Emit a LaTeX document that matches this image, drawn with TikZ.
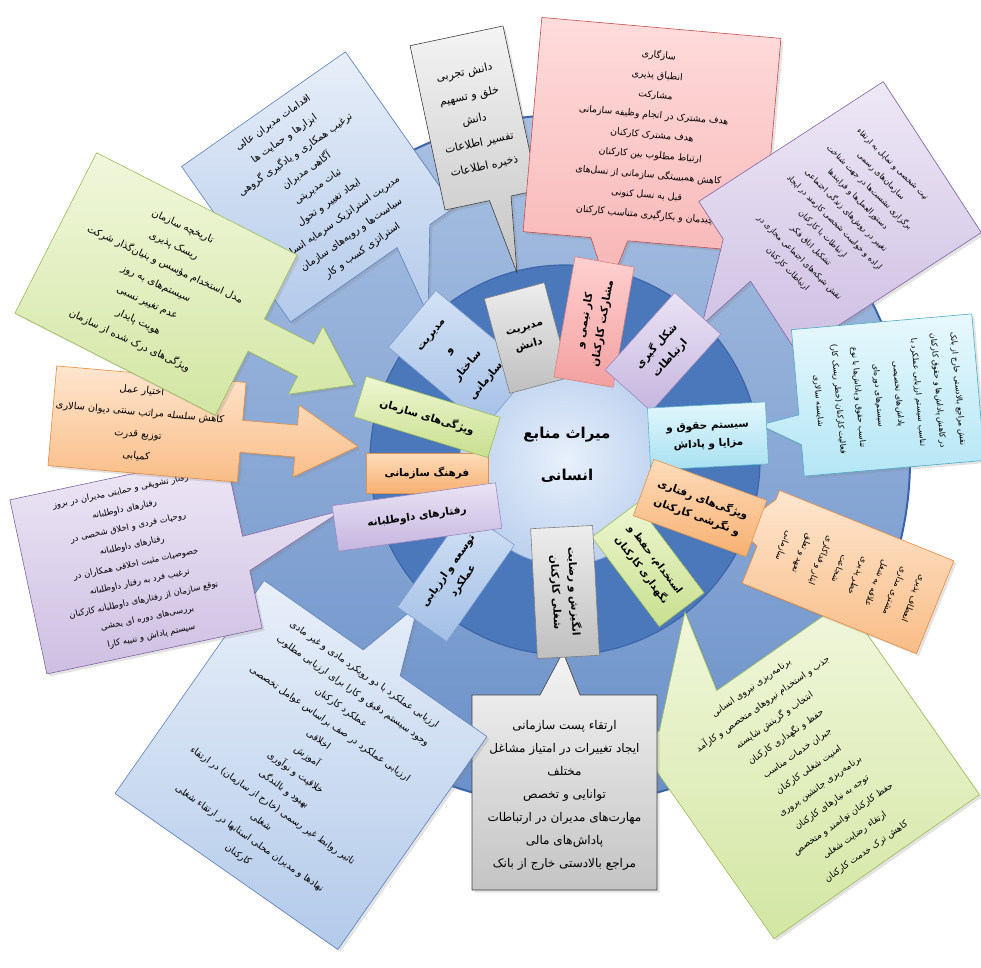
\documentclass[tikz,border=0pt]{standalone}
\usepackage{fontspec}
\newfontfamily\fa[Script=Arabic]{DejaVu Sans}
\TeXXeTstate=1
\newcommand{\fr}[1]{\beginR #1\endR}
\newcommand{\setfs}[2]{\fontsize{#1}{#2}\selectfont}
\usetikzlibrary{shadows}
% rings
\definecolor{ringedge}{HTML}{3A64A6}
\definecolor{ringtop}{HTML}{A9C0E2}
\definecolor{ringbot}{HTML}{6A90C8}
\definecolor{ringmid}{HTML}{4B78BB}
\definecolor{ringmidD}{HTML}{3D66A8}
\definecolor{corein}{HTML}{E8F0FB}
\definecolor{coreout}{HTML}{BCD1EE}
\definecolor{coreD}{HTML}{8EA9D6}
% callouts
\definecolor{cgrayT}{HTML}{F4F4F4}\definecolor{cgrayB}{HTML}{C4C4C4}\definecolor{cgrayD}{HTML}{3F3F3F}
\definecolor{cpinkT}{HTML}{FFDCDC}\definecolor{cpinkB}{HTML}{F7B4B4}\definecolor{cpinkD}{HTML}{C0504D}
\definecolor{cpurpT}{HTML}{EEE8F6}\definecolor{cpurpB}{HTML}{CDBFE2}\definecolor{cpurpD}{HTML}{8064A2}
\definecolor{ccyanT}{HTML}{E8F8FD}\definecolor{ccyanB}{HTML}{B5E6F5}\definecolor{ccyanD}{HTML}{4BACC6}
\definecolor{coranT}{HTML}{FEE6CF}\definecolor{coranB}{HTML}{F9BD87}\definecolor{coranD}{HTML}{E68A3A}
\definecolor{cgrnT}{HTML}{F1F7DC}\definecolor{cgrnB}{HTML}{D3E6A3}\definecolor{cgrnD}{HTML}{9BBB59}
\definecolor{cbluT}{HTML}{E8EFF9}\definecolor{cbluB}{HTML}{B3CAEA}\definecolor{cbluD}{HTML}{5A7FBF}
% labels
\definecolor{lbluT}{HTML}{D3E2F5}\definecolor{lbluB}{HTML}{A3BFE6}\definecolor{lbluD}{HTML}{7F9ECF}
\definecolor{lgrayT}{HTML}{EDEDED}\definecolor{lgrayB}{HTML}{BFBFBF}\definecolor{lgrayD}{HTML}{808080}
\definecolor{lpinkT}{HTML}{FFD0D0}\definecolor{lpinkB}{HTML}{F3A0A0}\definecolor{lpinkD}{HTML}{D88080}
\definecolor{lpurpT}{HTML}{EAE3F4}\definecolor{lpurpB}{HTML}{C5B6DF}\definecolor{lpurpD}{HTML}{9C88C0}
\definecolor{lcyanT}{HTML}{E3F7FC}\definecolor{lcyanB}{HTML}{A8E0F1}\definecolor{lcyanD}{HTML}{5DB6D0}
\definecolor{loranT}{HTML}{FDDCBC}\definecolor{loranB}{HTML}{F7B071}\definecolor{loranD}{HTML}{E0954F}
\definecolor{lgrnT}{HTML}{EEF6D2}\definecolor{lgrnB}{HTML}{C8DF8E}\definecolor{lgrnD}{HTML}{9DBE5C}
\tikzset{
  lbl/.style={line width=0.6pt, align=center, inner sep=1pt, font={\fa\bfseries\setfs{10.5}{18}}},
  lblue/.style={lbl, draw=lbluD, top color=lbluT, bottom color=lbluB},
  lgray/.style={lbl, draw=lgrayD, top color=lgrayT, bottom color=lgrayB},
  lpink/.style={lbl, draw=lpinkD, top color=lpinkT, bottom color=lpinkB},
  lpurple/.style={lbl, draw=lpurpD, top color=lpurpT, bottom color=lpurpB},
  lcyan/.style={lbl, draw=lcyanD, top color=lcyanT, bottom color=lcyanB},
  lorange/.style={lbl, draw=loranD, top color=loranT, bottom color=loranB},
  lgreen/.style={lbl, draw=lgrnD, top color=lgrnT, bottom color=lgrnB},
  cbase/.style={line width=0.6pt, line join=round, drop shadow={opacity=0.22, shadow xshift=2.5pt, shadow yshift=-2.5pt}},
  cgray/.style={cbase, draw=cgrayD, top color=cgrayT, bottom color=cgrayB},
  cpink/.style={cbase, draw=cpinkD, top color=cpinkT, bottom color=cpinkB},
  cpurple/.style={cbase, draw=cpurpD, top color=cpurpT, bottom color=cpurpB},
  ccyan/.style={cbase, draw=ccyanD, top color=ccyanT, bottom color=ccyanB},
  corange/.style={cbase, draw=coranD, top color=coranT, bottom color=coranB},
  cgreen/.style={cbase, draw=cgrnD, top color=cgrnT, bottom color=cgrnB},
  cblue/.style={cbase, draw=cbluD, top color=cbluT, bottom color=cbluB},
  ctext/.style={align=center, inner sep=0pt, text=black},
}
\begin{document}
\begin{tikzpicture}[x=1pt,y=-1pt]
\useasboundingbox (0,0) rectangle (981,967);
\fill[white] (0,0) rectangle (981,967);

% ---------- background rings ----------
\coordinate (C) at (565,460);
\path[draw=ringedge, line width=2pt, top color=ringtop, bottom color=ringbot] (C) circle[radius=345];
\path[draw=ringmidD, line width=1.2pt, fill=ringmid] (C) circle[radius=195];
\path[draw=coreD, line width=0.8pt, inner color=corein, outer color=coreout] (C) circle[radius=105];

\node[align=center, font={\fa\bfseries\setfs{15}{42}}] (T) at (567,455) {\fr{میراث منابع}\\\fr{انسانی}};

% ---------- callouts ----------
% blue top-left
\coordinate (tL) at (428,315);
\begin{scope}[shift={(318,187)},rotate=35]
\path[cblue] (-100,-95) -- (100,-95) -- (100,95) -- (70,95) -- (tL) -- (30,95) -- (-100,95) -- cycle;
\node[ctext, rotate=35, font={\fa\setfs{10}{19.5}}] (cL) at (0,0) {\fr{اقدامات مدیران عالی}\\\fr{ابزارها و حمایت ها}\\\fr{ترغیب همکاری و یادگیری گروهی}\\\fr{آگاهی مدیران}\\\fr{ثبات مدیریتی}\\\fr{ایجاد تغییر و تحول}\\\fr{مدیریت استراتژیک سرمایه انسانی}\\\fr{سیاست‌ها و رویه‌های سازمان}\\\fr{استراتژی کسب و کار}};
\end{scope}

% gray top
\coordinate (tA) at (517,273);
\begin{scope}[shift={(474,118)},rotate=12]
\path[cgray] (-47.5,-84) -- (47.5,-84) -- (47.5,84) -- (20,84) -- (tA) -- (-2,84) -- (-47.5,84) -- cycle;
\node[ctext, rotate=12, font={\fa\setfs{11}{24}}] (cA) at (0,2) {\fr{دانش تجربی}\\\fr{خلق و تسهیم}\\\fr{دانش}\\\fr{تفسیر اطلاعات}\\\fr{ذخیره اطلاعات}};
\end{scope}

% pink top
\coordinate (tB) at (608,290);
\begin{scope}[shift={(652,135)},rotate=-5]
\path[cpink] (-120,-107.5) -- (120,-107.5) -- (120,107.5) -- (-15,107.5) -- (tB) -- (-52,107.5) -- (-120,107.5) -- cycle;
\node[ctext, rotate=-5, font={\fa\setfs{9.3}{20}}] (cB) at (0,0) {\fr{سازگاری}\\\fr{انطباق پذیری}\\\fr{مشارکت}\\\fr{هدف مشترک در انجام وظیفه سازمانی}\\\fr{هدف مشترک کارکنان}\\\fr{ارتباط مطلوب بین کارکنان}\\\fr{کاهش همبستگی سازمانی از نسل‌های}\\\fr{قبل به نسل کنونی}\\\fr{چیدمان و بکارگیری متناسب کارکنان}};
\end{scope}

% purple top-right
\coordinate (tC) at (702,325);
\begin{scope}[shift={(840,217)},rotate=-57]
\path[cpurple] (-90,-110) -- (90,-110) -- (90,110) -- (5,110) -- (tC) -- (-45,110) -- (-90,110) -- cycle;
\node[ctext, rotate=-45, font={\fa\setfs{8}{16.5}}] (cC) at (0,0) {\fr{نیت شخصی و تمایل به ارتقاء}\\\fr{سازمان‌های رسمی}\\\fr{برگزاری نشست‌ها در جهت شناخت}\\\fr{دستورالعمل‌ها و فرایندها}\\\fr{تغییر در روش‌های زندگی اجتماعی}\\\fr{اراده و خواست شخصی کارمند در ایجاد}\\\fr{ارتباطات با کارکنان}\\\fr{تشکیل اتاق فکر}\\\fr{نقش شبکه‌های اجتماعی مجازی در}\\\fr{ارتباطات کارکنان}};
\end{scope}

% cyan right
\coordinate (tD) at (760,425);
\begin{scope}[shift={(888,395)},rotate=5]
\path[ccyan] (-90.5,-73.5) -- (90.5,-73.5) -- (90.5,73.5) -- (-90.5,73.5) -- (-90.5,42) -- (tD) -- (-90.5,12) -- cycle;
\node[ctext, rotate=-85, font={\fa\setfs{8}{20}}] (cD) at (0,0) {\fr{نقش مراجع بالادستی خارج از بانک}\\\fr{در کاهش پاداش‌ها و حقوق کارکنان}\\\fr{تناسب سیستم ارزیابی عملکرد با}\\\fr{پاداش‌های تخصیصی}\\\fr{سیستم‌های دوره‌ای}\\\fr{تناسب حقوق و پاداش‌ها با نوع}\\\fr{فعالیت کارکنان (خطر ریسک کار)}\\\fr{شایسته سالاری}};
\end{scope}

% green bottom-right
\coordinate (tF) at (685,612);
\begin{scope}[shift={(809,770)},rotate=35]
\path[cgreen] (-125.5,-118) -- (-100,-118) -- (tF) -- (-30,-118) -- (125.5,-118) -- (125.5,118) -- (-125.5,118) -- cycle;
\node[ctext, rotate=35, font={\fa\setfs{9}{20}}] (cF) at (0,0) {\fr{برنامه‌ریزی نیروی انسانی}\\\fr{جذب و استخدام نیروهای متخصص و کارآمد}\\\fr{انتخاب و گزینش شایسته}\\\fr{حفظ و نگهداری کارکنان}\\\fr{جبران خدمات مناسب}\\\fr{امنیت شغلی کارکنان}\\\fr{برنامه‌ریزی جانشین پروری}\\\fr{توجه به نیازهای کارکنان}\\\fr{حفظ کارکنان توانمند و متخصص}\\\fr{ارتقاء رضایت شغلی}\\\fr{کاهش ترک خدمت کارکنان}};
\end{scope}

% orange right
\coordinate (tE) at (737,528);
\begin{scope}[shift={(848,572)},rotate=-22]
\path[corange] (-94,-50) -- (94,-50) -- (94,50) -- (-94,50) -- (-94,10) -- (tE) -- (-94,-40) -- cycle;
\node[ctext, rotate=-112, font={\fa\setfs{8.5}{20}}] (cE) at (0,0) {\fr{انعطاف پذیری}\\\fr{مشتری مداری}\\\fr{علاقه به شغل}\\\fr{خطر پذیری}\\\fr{شجاعت}\\\fr{ایثار و فداکاری}\\\fr{تعهد و تعلق}\\\fr{سازمانی}};
\end{scope}

% gray bottom
\coordinate (tG) at (563,652);
\path[cgray] (472,695) -- (540,695) -- (tG) -- (580,695) -- (657,695) -- (657,890) -- (472,890) -- cycle;
\node[ctext, font={\fa\setfs{12}{23}}] (cG) at (564.5,795) {\fr{ارتقاء پست سازمانی}\\\fr{ایجاد تغییرات در امتیاز مشاغل}\\\fr{مختلف}\\\fr{توانایی و تخصص}\\\fr{مهارت‌های مدیران در ارتباطات}\\\fr{پاداش‌های مالی}\\\fr{مراجع بالادستی خارج از بانک}};

% blue bottom-left
\coordinate (tH) at (418,605);
\begin{scope}[shift={(301,765)},rotate=-35]
\path[cblue] (-136,-130) -- (-15,-130) -- (tH) -- (30,-130) -- (136,-130) -- (136,130) -- (-136,130) -- cycle;
\node[ctext, rotate=-35, font={\fa\setfs{9.5}{20}}] (cH) at (0,0) {\fr{ارزیابی عملکرد با دو رویکرد مادی و غیر مادی}\\\fr{وجود سیستم دقیق و کارا برای ارزیابی مطلوب}\\\fr{عملکرد کارکنان}\\\fr{ارزیابی عملکرد در صف براساس عوامل تخصصی}\\\fr{اخلاقی}\\\fr{آموزش}\\\fr{خلاقیت و نوآوری}\\\fr{بهبود و بالندگی}\\\fr{تاثیر روابط غیر رسمی (خارج از سازمان) در ارتقاء}\\\fr{شغلی}\\\fr{نهادها و مدیران محلی استانها در ارتقاء شغلی}\\\fr{کارکنان}};
\end{scope}

% purple left
\coordinate (tI) at (343,510);
\begin{scope}[shift={(136,564)},rotate=12]
\path[cpurple] (-110,-89) -- (110,-89) -- (110,-5) -- (tI) -- (110,30) -- (110,89) -- (-110,89) -- cycle;
\node[ctext, rotate=12, font={\fa\setfs{8.5}{18.5}}] (cI) at (0,0) {\fr{رفتار تشویقی و حمایتی مدیران در بروز}\\\fr{رفتارهای داوطلبانه}\\\fr{روحیات فردی و اخلاق شخصی در}\\\fr{رفتارهای داوطلبانه}\\\fr{خصوصیات مثبت اخلاقی همکاران در}\\\fr{ترغیب فرد به رفتار داوطلبانه}\\\fr{توقع سازمان از رفتارهای داوطلبانه کارکنان}\\\fr{بررسی‌های دوره ای بخشی}\\\fr{سیستم پاداش و تنبیه کارا}};
\end{scope}

% orange left (arrow)
\begin{scope}[shift={(147,424)},rotate=-5]
\path[corange] (-95,-50) -- (95,-50) -- (95,-12) -- (150,-12) -- (150,-32) -- (212,4) coordinate (tJ) -- (150,40) -- (150,20) -- (95,20) -- (95,50) -- (-95,50) -- cycle;
\node[ctext, rotate=-5, font={\fa\setfs{9.8}{22}}] (cJ) at (-8,0) {\fr{اختیار عمل}\\\fr{کاهش سلسله مراتب سنتی دیوان سالاری}\\\fr{توزیع قدرت}\\\fr{کمیابی}};
\end{scope}

% green left (arrow)
\begin{scope}[shift={(156,284)},rotate=-27]
\path[cgreen] (-112.5,-90) -- (112.5,-90) -- (112.5,-18) -- (168,-18) -- (168,-38) -- (222,0) coordinate (tK) -- (168,38) -- (168,18) -- (112.5,18) -- (112.5,90) -- (-112.5,90) -- cycle;
\node[ctext, rotate=-25, font={\fa\setfs{10}{21}}] (cK) at (0,0) {\fr{تاریخچه سازمان}\\\fr{ریسک پذیری}\\\fr{مدل استخدام مؤسس و بنیان‌گذار شرکت}\\\fr{سیستم‌های به روز}\\\fr{عدم تغییر نسبی}\\\fr{هویت پایدار}\\\fr{ویژگی‌های درک شده از سازمان}};
\end{scope}

% ---------- labels (on top of the callout pointers) ----------
\node[lblue, rotate=50, minimum width=74, minimum height=125, font={\fa\bfseries\setfs{10.5}{24}}] (L12) at (460,359) {\fr{مدیریت}\\\fr{و}\\\fr{ساختار}\\\fr{سازمانی}};
\node[lgray, rotate=15, minimum width=62, minimum height=98] (L11) at (527,338) {\fr{مدیریت}\\\fr{دانش}};
\node[lpink, rotate=80, minimum width=122, minimum height=60] (L10) at (594,322) {\fr{کار تیمی و}\\\fr{مشارکت کارکنان}};
\node[lpurple, rotate=48, minimum width=104, minimum height=62] (L9) at (663,352) {\fr{شکل گیری}\\\fr{ارتباطات}};
\node[lcyan, rotate=3, minimum width=118, minimum height=62] (L8) at (708,436) {\fr{سیستم حقوق و}\\\fr{مزایا و پاداش}};
\node[lgreen, rotate=-53, minimum width=112, minimum height=56, font={\fa\bfseries\setfs{10}{17}}] (L6) at (648,565) {\fr{استخدام، حفظ و}\\\fr{نگهداری کارکنان}};
\node[lorange, rotate=-20, minimum width=120, minimum height=60] (L7) at (700,508) {\fr{ویژگی‌های رفتاری}\\\fr{و نگرشی کارکنان}};
\node[lgray, rotate=-87, minimum width=130, minimum height=62] (L5) at (565,592) {\fr{انگیزش و رضایت}\\\fr{شغلی کارکنان}};
\node[lblue, rotate=55, minimum width=118, minimum height=60] (L4) at (456,576) {\fr{توسعه و ارزیابی}\\\fr{عملکرد}};
\node[lorange, minimum width=122, minimum height=40] (L2) at (427,473) {\fr{فرهنگ سازمانی}};
\node[lpurple, rotate=8, minimum width=165, minimum height=46] (L3) at (417,517) {\fr{رفتارهای داوطلبانه}};
\node[lgreen, rotate=-17, minimum width=140, minimum height=42] (L1) at (427,417) {\fr{ویژگی‌های سازمان}};

\end{tikzpicture}
\end{document}
